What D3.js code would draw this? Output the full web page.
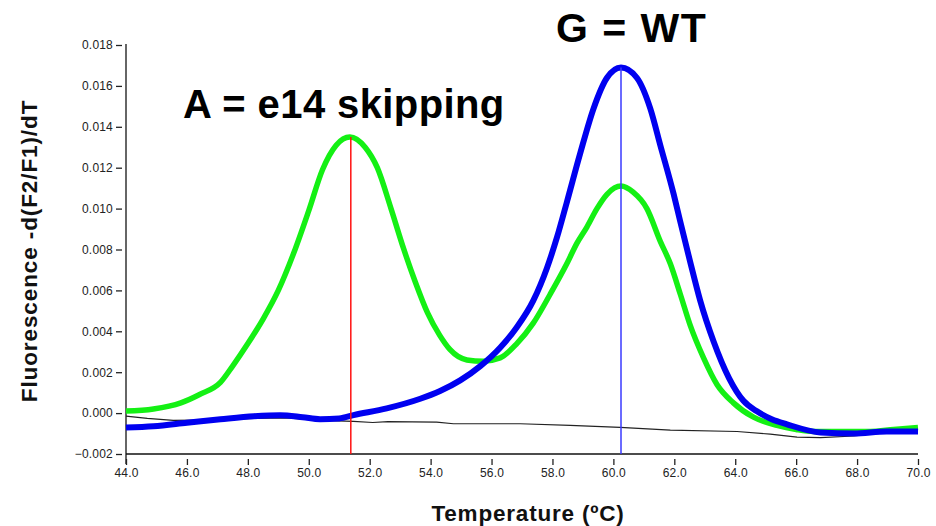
<!DOCTYPE html>
<html><head><meta charset="utf-8">
<script src="https://cdn.jsdelivr.net/npm/d3@7"></script>
<style>
html,body{margin:0;padding:0;background:#fff;}
svg{display:block;font-family:Arial,"Liberation Sans",sans-serif;}
</style></head>
<body>
<svg id="chart" width="936" height="526"></svg>
<script>
// ---- data ----
const xTicks = [44, 46, 48, 50, 52, 54, 56, 58, 60, 62, 64, 66, 68, 70];
const yTicks = [-0.002, 0.000, 0.002, 0.004, 0.006, 0.008, 0.010, 0.012, 0.014, 0.016, 0.018];

const greenT = [44.0, 44.9, 45.8, 46.4, 47.1, 47.5, 48.0, 48.5, 49.0, 49.5, 50.0, 50.45, 50.9, 51.35, 51.85, 52.25, 52.7, 53.1, 53.5, 53.9, 54.3, 54.64, 55.19, 55.73, 56.28, 56.83, 57.37, 57.92, 58.47, 58.8, 59.13, 59.46, 59.79, 60.25, 60.65, 61.1, 61.54, 61.87, 62.2, 62.52, 62.96, 63.4, 63.94, 64.6, 65.37, 66.0, 66.57, 67.34, 68.43, 69.2, 70.0];
const greenV = [0.0001, 0.0002, 0.0005, 0.0009, 0.0015, 0.0023, 0.0034, 0.0046, 0.0060, 0.0078, 0.0099, 0.0119, 0.0131, 0.0135, 0.0130, 0.0120, 0.0100, 0.0081, 0.0064, 0.0049, 0.0038, 0.0031, 0.0026, 0.00254, 0.0027, 0.0034, 0.0044, 0.0058, 0.0073, 0.0083, 0.0091, 0.0100, 0.0107, 0.0111, 0.0108, 0.0100, 0.0084, 0.0073, 0.0058, 0.0043, 0.0027, 0.0014, 0.0005, -0.0002, -0.0006, -0.0008, -0.0009, -0.0009, -0.0009, -0.0008, -0.0007];

const blueT = [44.0, 44.9, 46.0, 47.1, 48.2, 49.06, 49.8, 50.37, 51.0, 51.47, 52.56, 53.66, 54.31, 54.97, 55.63, 56.28, 56.83, 57.37, 57.82, 58.15, 58.47, 58.91, 59.35, 59.79, 60.25, 60.77, 61.21, 61.54, 61.98, 62.19, 62.52, 62.85, 63.29, 63.8, 64.27, 64.7, 65.2, 65.7, 66.8, 67.9, 68.97, 70.0];
const blueV = [-0.0007, -0.00064, -0.00047, -0.0003, -0.00015, -0.0001, -0.0002, -0.0003, -0.00026, -0.0001, 0.00023, 0.0007, 0.00108, 0.0016, 0.0023, 0.0032, 0.0042, 0.0055, 0.0071, 0.0086, 0.0103, 0.0127, 0.0149, 0.0164, 0.0169, 0.0164, 0.0149, 0.0131, 0.0107, 0.0094, 0.0074, 0.0055, 0.0035, 0.0017, 0.0006, 0.0001, -0.0003, -0.00055, -0.00095, -0.0010, -0.0009, -0.0009];

const blackT = [44.0, 44.7, 45.55, 47.1, 48.2, 49.3, 49.9, 50.4, 51.47, 52.1, 52.6, 54.2, 54.75, 56.94, 58.58, 60.22, 61.87, 64.06, 65.15, 66.03, 66.8, 67.9, 68.76, 70.0];
const blackV = [-0.00015, -0.00026, -0.00036, -0.00033, -0.00026, -0.00023, -0.00031, -0.00036, -0.0004, -0.00046, -0.00042, -0.00044, -0.00052, -0.00052, -0.0006, -0.0007, -0.00083, -0.0009, -0.00103, -0.00117, -0.0012, -0.00112, -0.00096, -0.0008];

const peakA = {t: 51.38, v: 0.0135};
const peakG = {t: 60.25, v: 0.0169};

const labelA = "A = e14 skipping";
const labelG = "G = WT";
const xTitle = "Temperature (\u00baC)";
const yTitle = "Fluorescence -d(F2/F1)/dT";

// ---- chart ----
const svg = d3.select("#chart");
const x = d3.scaleLinear().domain([44, 70]).range([126, 918]);
const y = d3.scaleLinear().domain([-0.002, 0.018]).range([454, 45]);

// Y axis (gray line, detached dash ticks)
const yAxis = d3.axisLeft(y).tickValues(yTicks).tickFormat(d3.format(".3f")).tickSize(6).tickPadding(3).tickSizeOuter(0);
const gy = svg.append("g").attr("transform", "translate(122,0)").call(yAxis);
gy.select(".domain").remove();
gy.selectAll(".tick line").attr("stroke", "#222").attr("stroke-width", 1.3);
gy.selectAll(".tick text").attr("font-size", 12).attr("fill", "#222").style("letter-spacing", "0.2px");
svg.append("line").attr("x1", 126).attr("x2", 126).attr("y1", 44).attr("y2", 464)
  .attr("stroke", "#666").attr("stroke-width", 2);

// X axis
const xAxis = d3.axisBottom(x).tickValues(xTicks).tickFormat(d3.format(".1f")).tickSize(6).tickPadding(3).tickSizeOuter(0);
const gx = svg.append("g").attr("transform", "translate(0,459)").call(xAxis);
gx.select(".domain").remove();
gx.selectAll(".tick line").attr("stroke", "#222").attr("stroke-width", 1.3);
gx.selectAll(".tick text").attr("font-size", 12).attr("fill", "#222").style("letter-spacing", "0.2px");
svg.append("line").attr("x1", 126).attr("x2", 918).attr("y1", y(-0.002)).attr("y2", y(-0.002))
  .attr("stroke", "#111").attr("stroke-width", 1.6);

// Axis titles
svg.append("text").attr("x", 528).attr("y", 521).attr("text-anchor", "middle")
  .attr("font-size", 22.5).attr("font-weight", "bold").attr("fill", "#111")
  .style("letter-spacing", "0.8px").text(xTitle);
svg.append("text").attr("transform", "translate(37,251) rotate(-90)").attr("text-anchor", "middle")
  .attr("font-size", 22.5).attr("font-weight", "bold").attr("fill", "#111")
  .style("letter-spacing", "0.9px").text(yTitle);

// Curves
const zip = (T, V) => T.map((t, i) => [t, V[i]]);
const smooth = d3.line().x(d => x(d[0])).y(d => y(d[1])).curve(d3.curveMonotoneX);
const straight = d3.line().x(d => x(d[0])).y(d => y(d[1])).curve(d3.curveLinear);

svg.append("path").attr("d", straight(zip(blackT, blackV)))
  .attr("fill", "none").attr("stroke", "#222").attr("stroke-width", 1.2);
svg.append("path").attr("d", smooth(zip(greenT, greenV)))
  .attr("fill", "none").attr("stroke", "#14f014").attr("stroke-width", 5.5).attr("stroke-linejoin", "round");
svg.append("path").attr("d", smooth(zip(blueT, blueV)))
  .attr("fill", "none").attr("stroke", "#0000f0").attr("stroke-width", 6).attr("stroke-linejoin", "round");

// Peak markers
svg.append("line").attr("x1", x(peakA.t)).attr("x2", x(peakA.t)).attr("y1", y(peakA.v)).attr("y2", y(-0.002))
  .attr("stroke", "#ff1010").attr("stroke-width", 1.5);
svg.append("line").attr("x1", x(peakG.t)).attr("x2", x(peakG.t)).attr("y1", y(peakG.v)).attr("y2", y(-0.002))
  .attr("stroke", "#3a3aff").attr("stroke-width", 1.5);

// Annotations
svg.append("text").attr("x", 183).attr("y", 118).attr("font-size", 40).attr("font-weight", "bold")
  .attr("fill", "#000").style("letter-spacing", "0.4px").text(labelA);
svg.append("text").attr("x", 556).attr("y", 42).attr("font-size", 41).attr("font-weight", "bold")
  .attr("fill", "#000").style("letter-spacing", "1.5px").text(labelG);
</script>
</body></html>
